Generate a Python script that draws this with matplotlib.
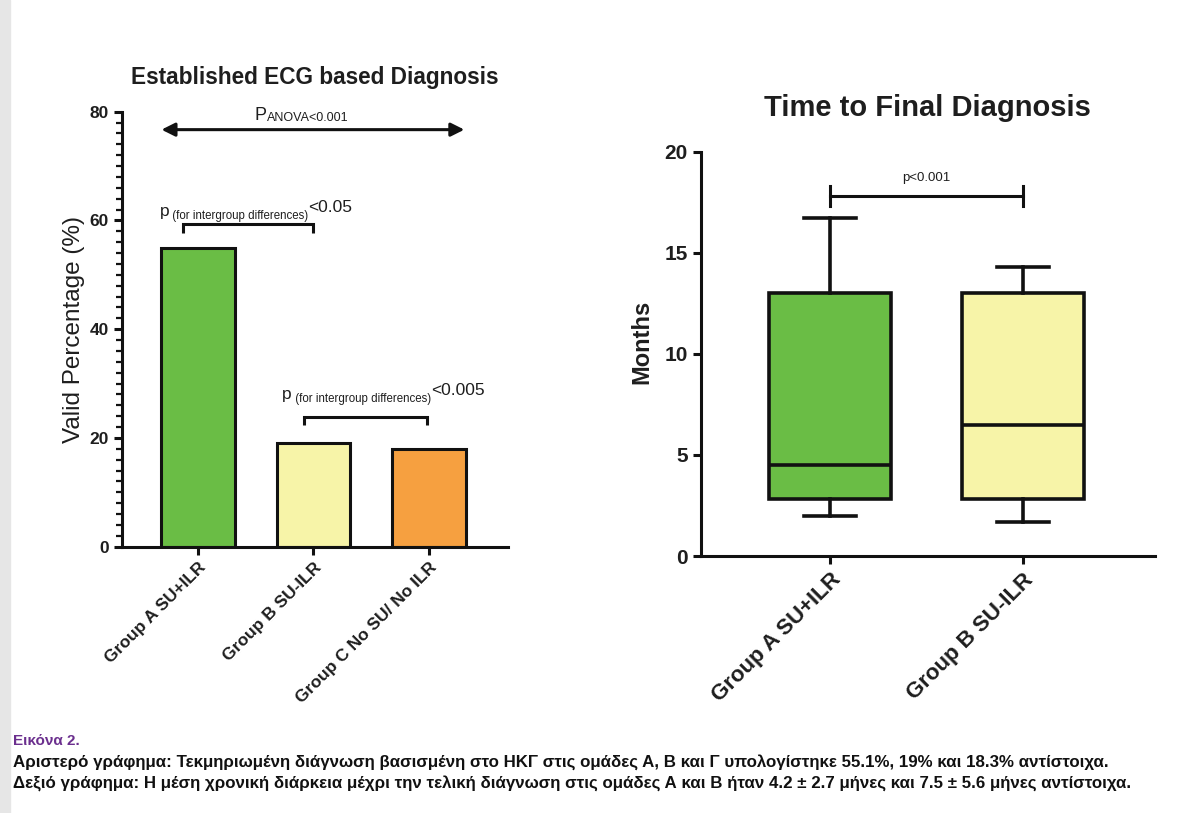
import matplotlib
matplotlib.use('Agg')
import matplotlib.pyplot as plt
from matplotlib.ticker import MultipleLocator

plt.rcParams['font.family'] = ['Liberation Sans', 'DejaVu Sans']

# left chart: ECG based diagnosis
groups_left = ['Group A SU+ILR', 'Group B SU-ILR', 'Group C No SU/ No ILR']
valid_pct = [55.0, 19.0, 18.0]
bar_colors = ['#6abd45', '#f7f4a8', '#f6a040']

# right chart: time to final diagnosis (box stats, months)
groups_right = ['Group A SU+ILR', 'Group B SU-ILR']
whislo = [2.0, 1.7]
q1 = [2.8, 2.8]
med = [4.5, 6.5]
q3 = [13.0, 13.0]
whishi = [16.7, 14.3]
box_colors = ['#6abd45', '#f7f4a8']

caption_title = 'Εικόνα 2.'
caption_lines = [
    'Αριστερό γράφημα: Τεκμηριωμένη διάγνωση βασισμένη στο ΗΚΓ στις ομάδες Α, Β και Γ υπολογίστηκε 55.1%, 19% και 18.3% αντίστοιχα.',
    'Δεξιό γράφημα: Η μέση χρονική διάρκεια μέχρι την τελική διάγνωση στις ομάδες Α και Β ήταν 4.2 ± 2.7 μήνες και 7.5 ± 5.6 μήνες αντίστοιχα.',
]

TXT = '#1e1e1e'
fig = plt.figure(figsize=(12.03, 8.13), dpi=100)

# faint page shadow at the left edge
fig.patches.append(plt.Rectangle((0, 0), 0.008, 1, transform=fig.transFigure,
                                 color='#e6e6e6', zorder=0))


def style_axes(ax):
    for s in ['top', 'right']:
        ax.spines[s].set_visible(False)
    for s in ['left', 'bottom']:
        ax.spines[s].set_linewidth(2.2)
        ax.spines[s].set_color('#111111')
    ax.tick_params(axis='both', which='major', direction='out', length=6, width=2.2, color='#111111')


# ---------- left: bars ----------
ax1 = fig.add_axes([0.1012, 0.3276, 0.3211, 0.535])
x = range(len(groups_left))
ax1.bar(x, valid_pct, width=0.64, color=bar_colors, edgecolor='#111111', linewidth=2.2, zorder=2)
ax1.set_xlim(-0.66, 2.684)
ax1.set_ylim(0, 80)
ax1.set_yticks([0, 20, 40, 60, 80])
ax1.yaxis.set_minor_locator(MultipleLocator(2))
ax1.tick_params(axis='y', which='minor', direction='out', length=4, width=1.6, color='#111111')
style_axes(ax1)
ax1.set_xticks(list(x))
ax1.set_xticklabels(groups_left, rotation=45, ha='right', rotation_mode='anchor',
                    fontsize=12.5, fontweight='bold', color=TXT)
for lab in ax1.get_yticklabels():
    lab.set_fontsize(12.5)
    lab.set_fontweight('bold')
    lab.set_color(TXT)
ax1.set_ylabel('Valid Percentage (%)', fontsize=17.5, color=TXT)
ax1.yaxis.set_label_coords(-0.095, 0.5)
ax1.set_title('Established ECG based Diagnosis', fontsize=16.3, fontweight='bold', color=TXT, pad=20)

# ANOVA arrow
ax1.annotate('', xy=(-0.34, 76.7), xytext=(2.33, 76.7),
             arrowprops=dict(arrowstyle='<|-|>', color='#111111', lw=2.2, mutation_scale=20))
pt = ax1.text(0.49, 78.4, 'P', fontsize=13, color=TXT, ha='left', va='baseline')
ax1.annotate('ANOVA<0.001', xy=(1, 0), xycoords=pt, fontsize=9, color=TXT, va='bottom', ha='left')


# intergroup brackets
def bracket(ax, x0, x1, y, leg):
    ax.plot([x0, x0, x1, x1], [y - leg, y, y, y - leg], color='#111111', lw=2.2,
            solid_capstyle='butt', solid_joinstyle='miter')


def ptext(ax, x0, y, tail):
    t = ax.text(x0, y, 'p', fontsize=12.5, color=TXT, ha='left', va='baseline')
    t2 = ax.annotate(' (for intergroup differences)', xy=(1, 0), xycoords=t, xytext=(0, -2),
                     textcoords='offset points', fontsize=8.3, color=TXT, va='bottom', ha='left')
    ax.annotate(tail, xy=(1, 0), xycoords=t2, xytext=(0, 5), textcoords='offset points',
                fontsize=12.5, color=TXT, va='bottom', ha='left')


bracket(ax1, -0.13, 1.0, 59.3, 1.6)
ptext(ax1, -0.33, 60.8, '<0.05')
bracket(ax1, 0.92, 1.98, 23.9, 1.6)
ptext(ax1, 0.73, 27.2, '<0.005')

# ---------- right: boxes ----------
ax2 = fig.add_axes([0.5825, 0.3161, 0.3776, 0.4973])
stats = []
for i in range(len(groups_right)):
    stats.append(dict(whislo=whislo[i], q1=q1[i], med=med[i], q3=q3[i], whishi=whishi[i],
                      fliers=[], label=groups_right[i]))
bp = ax2.bxp(stats, positions=[0, 1], widths=0.63, patch_artist=True, showfliers=False,
             boxprops=dict(linewidth=2.6, edgecolor='#111111'),
             medianprops=dict(color='#111111', linewidth=2.6),
             whiskerprops=dict(color='#111111', linewidth=2.6),
             capprops=dict(color='#111111', linewidth=2.6), capwidths=0.27)
for patch, c in zip(bp['boxes'], box_colors):
    patch.set_facecolor(c)
ax2.set_xlim(-0.67, 1.684)
ax2.set_ylim(0, 20)
ax2.set_yticks([0, 5, 10, 15, 20])
style_axes(ax2)
ax2.set_xticks([0, 1])
ax2.set_xticklabels(groups_right, rotation=45, ha='right', rotation_mode='anchor',
                    fontsize=16, fontweight='bold', color=TXT)
for lab in ax2.get_yticklabels():
    lab.set_fontsize(15)
    lab.set_fontweight('bold')
    lab.set_color(TXT)
ax2.set_ylabel('Months', fontsize=17, fontweight='bold', color=TXT)
ax2.yaxis.set_label_coords(-0.105, 0.53)
ax2.set_title('Time to Final Diagnosis', fontsize=21, fontweight='bold', color=TXT, pad=26)

# significance bar
ax2.plot([0, 1], [17.8, 17.8], color='#111111', lw=2.2)
ax2.plot([0, 0], [17.3, 18.3], color='#111111', lw=2.2)
ax2.plot([1, 1], [17.3, 18.3], color='#111111', lw=2.2)
ax2.text(0.5, 18.4, 'p<0.001', fontsize=9.5, color=TXT, ha='center', va='bottom')

# ---------- caption ----------
fig.text(0.011, 0.0836, caption_title, fontsize=11, fontweight='bold', color='#6b2f8e')
fig.text(0.011, 0.057, caption_lines[0], fontsize=12.2, fontweight='bold', color='#111111')
fig.text(0.011, 0.030, caption_lines[1], fontsize=12.2, fontweight='bold', color='#111111')

fig.savefig('out.png', dpi=100)
